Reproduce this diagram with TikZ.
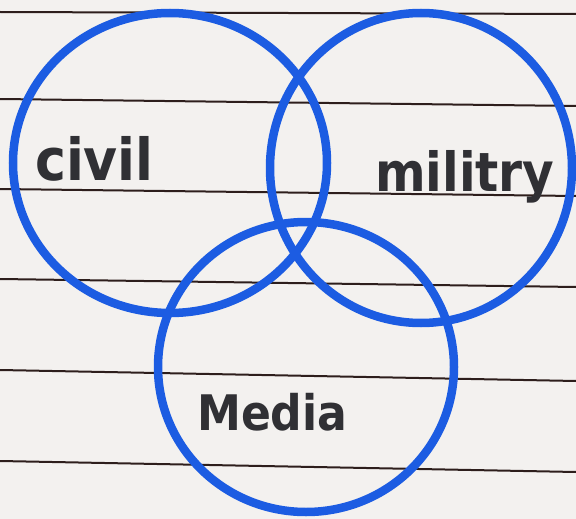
\documentclass[tikz,border=0pt]{standalone}
\usepackage{fontspec}
\newfontfamily\hand{DejaVu Sans Condensed}
\definecolor{paper}{RGB}{243,241,239}
\definecolor{rule}{RGB}{45,30,28}
\definecolor{pen}{RGB}{28,92,226}
\definecolor{ink}{RGB}{48,48,52}
\tikzset{
  ruleline/.style={draw=rule, line width=2pt},
  ring/.style={draw=pen, line width=8.5pt},
  label/.style={text=ink, inner sep=0pt, anchor=base west, font=\hand\bfseries}
}
\begin{document}
\begin{tikzpicture}[x=1pt,y=-1pt]
\useasboundingbox (0,0) rectangle (576,519);
\fill[paper] (0,0) rectangle (576,519);
% ruled lines
\draw[ruleline] (0,12) -- (576,14);
\draw[ruleline] (0,99) -- (576,106);
\draw[ruleline] (0,189) -- (576,196);
\draw[ruleline] (0,279) -- (576,287);
\draw[ruleline] (0,370) -- (576,381);
\draw[ruleline] (0,461) -- (576,472);
% circles
\draw[ring] (170,163) ellipse [x radius=157, y radius=150];
\draw[ring] (421,168) ellipse [x radius=151, y radius=155];
\draw[ring] (306,367) ellipse [x radius=148, y radius=145];
% labels
\node[label, font=\hand\bfseries\fontsize{58}{58}\selectfont] (civil) at (35,180) {civil};
\node[label, font=\hand\bfseries\fontsize{54}{54}\selectfont] (military) at (375,191) {militry};
\node[label, font=\hand\bfseries\fontsize{49}{49}\selectfont] (media) at (197,430) {Media};
\end{tikzpicture}
\end{document}
